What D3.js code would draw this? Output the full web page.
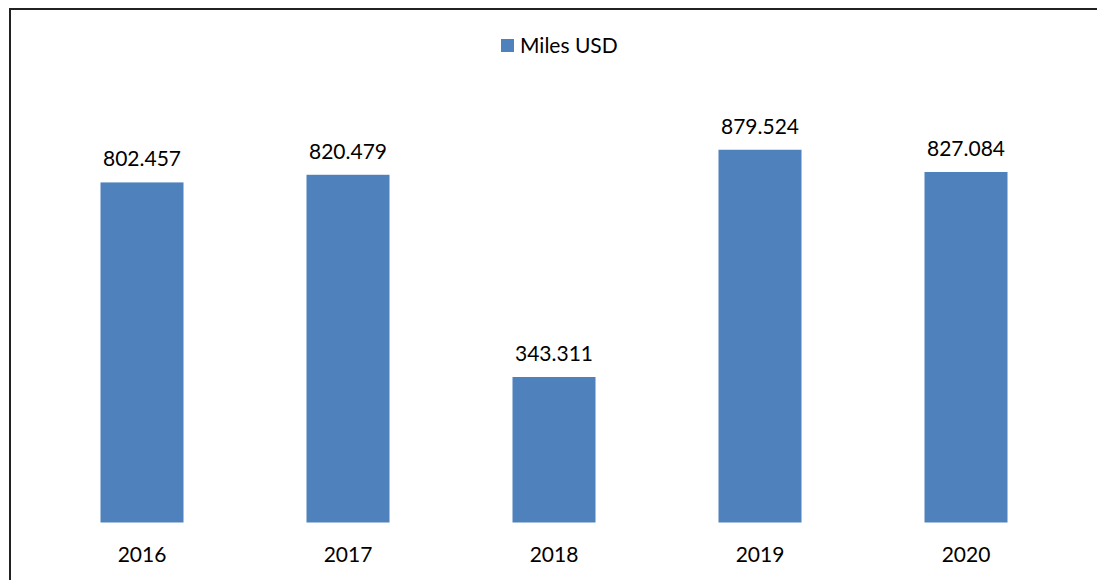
<!DOCTYPE html>
<html><head><meta charset="utf-8">
<script src="https://cdn.jsdelivr.net/npm/d3@7"></script>
<style>html,body{margin:0;padding:0;background:#fff;}svg{display:block;}</style>
</head><body>
<script>
const categories = ["2016","2017","2018","2019","2020"];
const values = [802.457, 820.479, 343.311, 879.524, 827.084];
const valueLabels = ["802.457","820.479","343.311","879.524","827.084"];
const seriesName = "Miles USD";

const W = 1097, H = 580;
const svg = d3.select("body").append("svg").attr("width", W).attr("height", H);
const font = "Lato, 'Open Sans', sans-serif";

// frame
svg.append("line").attr("x1",10).attr("y1",9).attr("x2",W).attr("y2",9).attr("stroke","#222").attr("stroke-width",2);
svg.append("line").attr("x1",10).attr("y1",8).attr("x2",10).attr("y2",H).attr("stroke","#222").attr("stroke-width",2);

const x = d3.scaleBand().domain(categories).range([39, 1069]).paddingInner(0.597).paddingOuter(0.2985);
const y = d3.scaleLinear().domain([0, 1000]).range([522.5, 98.7]);

const color = "#4F81BD";

svg.selectAll("rect.bar").data(values).join("rect").attr("class","bar")
  .attr("x",(d,i)=>x(categories[i])).attr("width",x.bandwidth())
  .attr("y",d=>y(d)).attr("height",d=>y(0)-y(d)).attr("fill",color);

svg.selectAll("text.val").data(values).join("text").attr("class","val")
  .attr("x",(d,i)=>x(categories[i])+x.bandwidth()/2).attr("y",d=>y(d)-16)
  .attr("text-anchor","middle").attr("font-family",font).attr("font-size",21).attr("fill","#000")
  .text((d,i)=>valueLabels[i]);

const xAxis = d3.axisBottom(x).tickSize(0).tickPadding(0);
const gx = svg.append("g").attr("transform",`translate(0,${y(0)})`).call(xAxis);
gx.select(".domain").remove();
gx.selectAll("text").attr("font-family",font).attr("font-size",21).attr("fill","#000").attr("dy",null).attr("y",39);

// legend
svg.append("rect").attr("x",501).attr("y",39).attr("width",13).attr("height",13).attr("fill",color);
svg.append("text").attr("x",520).attr("y",53).attr("font-family",font).attr("font-size",21).attr("fill","#000").text(seriesName);
</script>
</body></html>
